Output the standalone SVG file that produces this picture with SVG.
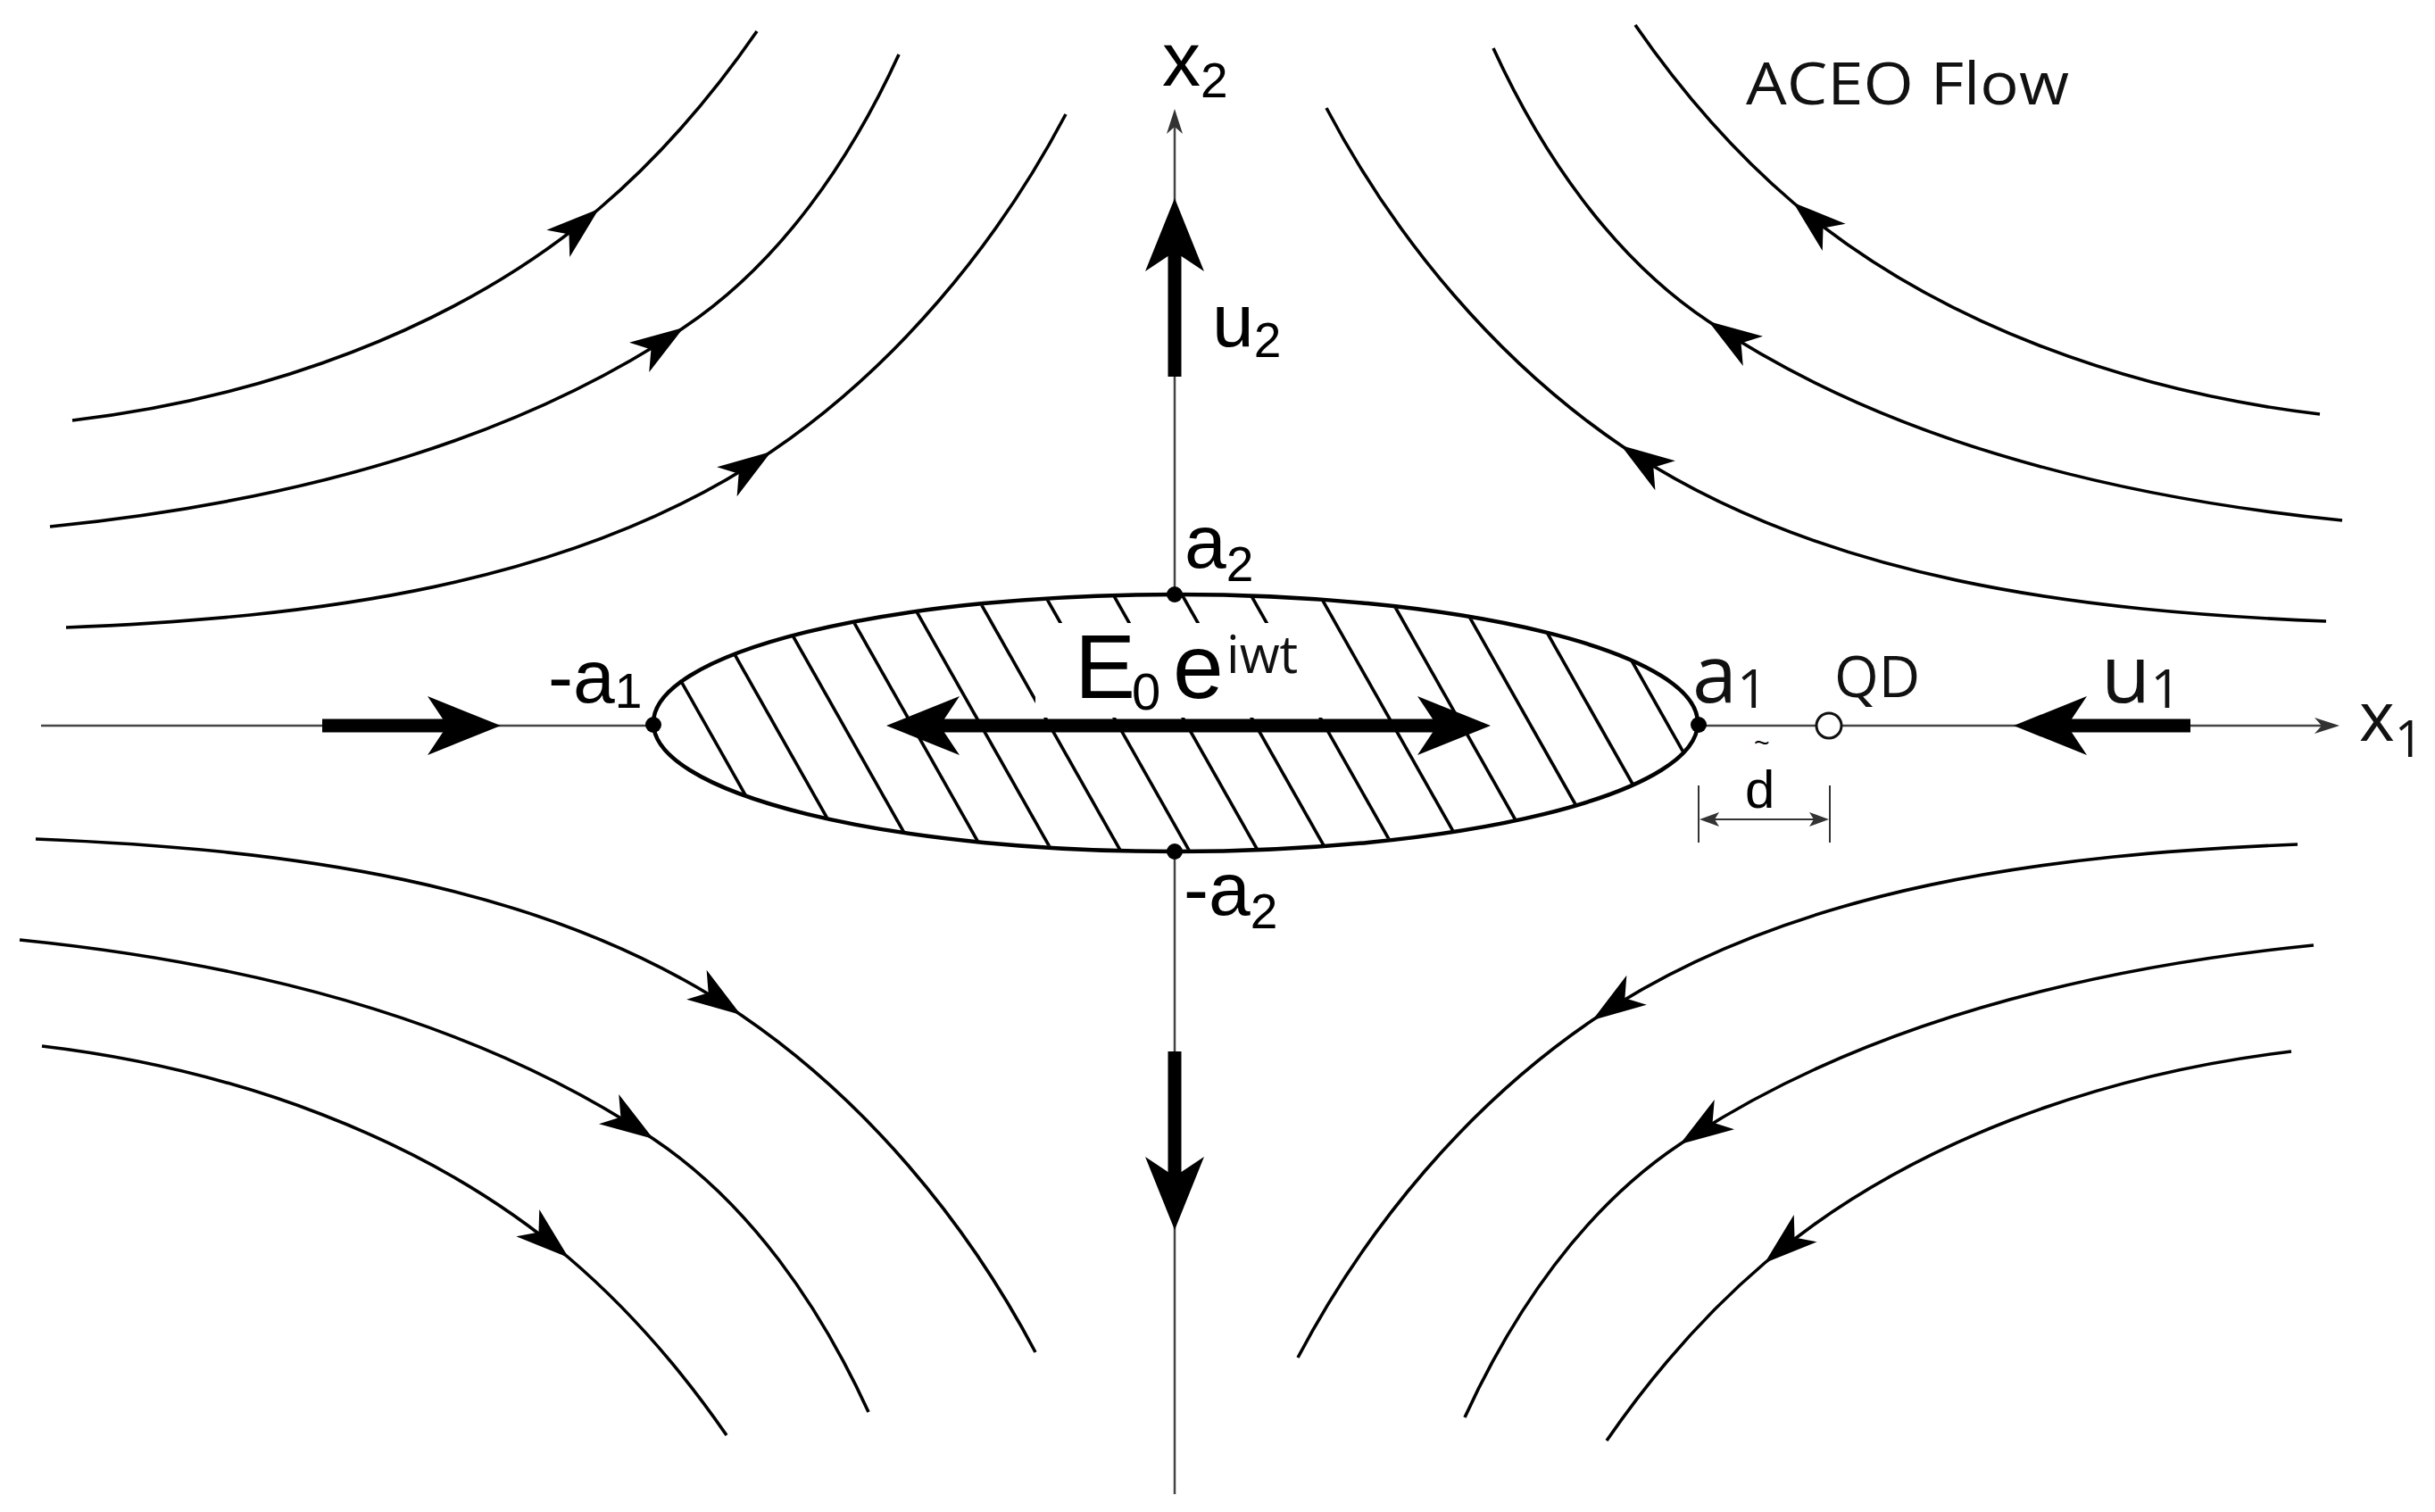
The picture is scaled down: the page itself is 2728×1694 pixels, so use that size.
<svg xmlns="http://www.w3.org/2000/svg" xmlns:xlink="http://www.w3.org/1999/xlink" width="2728" height="1694" viewBox="0 0 2728 1694">
<style>
.axis{stroke:#444;stroke-width:2.5;fill:none}
.stream{stroke:#000;stroke-width:3.6;fill:none;marker-mid:url(#barb)}
.hatch{stroke:#000;stroke-width:3.6}
.thick{stroke:#000;stroke-width:15;fill:none}
.dim{stroke:#333;stroke-width:2;fill:none}
.cond{font-family:"Liberation Sans",Arial,sans-serif;fill:#000}
.os{font-family:"Open Sans","Liberation Sans",sans-serif;fill:#111}
</style>
<defs>
<marker id="barb" markerUnits="userSpaceOnUse" orient="auto" refX="0" refY="0" markerWidth="90" markerHeight="60" viewBox="-80 -30 90 60" overflow="visible">
<path d="M0,0 L-60,-20 L-44,0 L-60,20 Z" fill="#000"/>
</marker>
<path id="thickHead" d="M0,0 L-82,-33 L-60,0 L-82,33 Z" fill="#000"/>
<path id="smallHead" d="M0,0 L-28,-9 L-20,0 L-28,9 Z" fill="#333"/>
<clipPath id="ellClip"><ellipse cx="1317" cy="810" rx="583" ry="142"/></clipPath>
</defs>
<rect width="2728" height="1694" fill="#fff"/>

<g id="connectors">
<g id="stream-TR">
<path class="stream" d="M2599,464 C2388.5,439 2170.5,364 2009,227 C1941,169 1882.5,101 1832,28"/>
<path class="stream" d="M2624,583 C2377,558 2120,498 1914,360 C1806,288 1727,172 1673,54"/>
<path class="stream" d="M2606,696 C2335,685 2040,651 1816,499 C1678,405 1564,269 1486,121"/>
</g>
<g id="stream-TL" transform="matrix(-1 0 0 1 2680 7)">
<path class="stream" d="M2599,464 C2388.5,439 2170.5,364 2009,227 C1941,169 1882.5,101 1832,28"/>
<path class="stream" d="M2624,583 C2377,558 2120,498 1914,360 C1806,288 1727,172 1673,54"/>
<path class="stream" d="M2606,696 C2335,685 2040,651 1816,499 C1678,405 1564,269 1486,121"/>
</g>
<g id="stream-BR" transform="matrix(1 0 0 -1 -32 1642)">
<path class="stream" d="M2599,464 C2388.5,439 2170.5,364 2009,227 C1941,169 1882.5,101 1832,28"/>
<path class="stream" d="M2624,583 C2377,558 2120,498 1914,360 C1806,288 1727,172 1673,54"/>
<path class="stream" d="M2606,696 C2335,685 2040,651 1816,499 C1678,405 1564,269 1486,121"/>
</g>
<g id="stream-BL" transform="matrix(-1 0 0 -1 2646 1636)">
<path class="stream" d="M2599,464 C2388.5,439 2170.5,364 2009,227 C1941,169 1882.5,101 1832,28"/>
<path class="stream" d="M2624,583 C2377,558 2120,498 1914,360 C1806,288 1727,172 1673,54"/>
<path class="stream" d="M2606,696 C2335,685 2040,651 1816,499 C1678,405 1564,269 1486,121"/>
</g>

<g id="axes">
<line class="axis" x1="46" y1="813" x2="732" y2="813"/>
<line class="axis" x1="1903" y1="813" x2="2610" y2="813"/>
<use xlink:href="#smallHead" href="#smallHead" transform="translate(2621,813)"/>
<line class="axis" x1="1316" y1="1674" x2="1316" y2="954"/>
<line class="axis" x1="1316" y1="666" x2="1316" y2="132"/>
<use xlink:href="#smallHead" href="#smallHead" transform="translate(1316,122) rotate(-90)"/>
</g>

<g id="velocity-arrows">
<line class="thick" x1="361" y1="813" x2="510" y2="813"/>
<use xlink:href="#thickHead" href="#thickHead" transform="translate(561,813)"/>
<line class="thick" x1="2454" y1="813" x2="2305" y2="813"/>
<use xlink:href="#thickHead" href="#thickHead" transform="translate(2256,813) rotate(180)"/>
<line class="thick" x1="1316" y1="422" x2="1316" y2="272"/>
<use xlink:href="#thickHead" href="#thickHead" transform="translate(1316,222) rotate(-90)"/>
<line class="thick" x1="1316" y1="1178" x2="1316" y2="1328"/>
<use xlink:href="#thickHead" href="#thickHead" transform="translate(1316,1378) rotate(90)"/>
</g>
</g>

<g id="ellipse-body">
<ellipse cx="1317" cy="810" rx="585" ry="144" fill="#fff" stroke="none"/>
<g clip-path="url(#ellClip)">
<line class="hatch" x1="699" y1="650" x2="881" y2="972"/>
<line class="hatch" x1="776" y1="650" x2="958" y2="972"/>
<line class="hatch" x1="853" y1="650" x2="1035" y2="972"/>
<line class="hatch" x1="930" y1="650" x2="1112" y2="972"/>
<line class="hatch" x1="1007" y1="650" x2="1189" y2="972"/>
<line class="hatch" x1="1084" y1="650" x2="1266" y2="972"/>
<line class="hatch" x1="1161" y1="650" x2="1343" y2="972"/>
<line class="hatch" x1="1238" y1="650" x2="1420" y2="972"/>
<line class="hatch" x1="1315" y1="650" x2="1497" y2="972"/>
<line class="hatch" x1="1392" y1="650" x2="1574" y2="972"/>
<line class="hatch" x1="1469" y1="650" x2="1651" y2="972"/>
<line class="hatch" x1="1546" y1="650" x2="1728" y2="972"/>
<line class="hatch" x1="1623" y1="650" x2="1805" y2="972"/>
<line class="hatch" x1="1700" y1="650" x2="1882" y2="972"/>
<line class="hatch" x1="1777" y1="650" x2="1959" y2="972"/>
</g>
<rect x="1160" y="698" width="325" height="106" fill="#fff"/>
<ellipse cx="1317" cy="810" rx="585" ry="144" fill="none" stroke="#000" stroke-width="4.5"/>
</g>

<g id="field-arrow">
<line class="thick" x1="1045" y1="813" x2="1615" y2="813" stroke-width="16"/>
<use xlink:href="#thickHead" href="#thickHead" transform="translate(1670,813)"/>
<use xlink:href="#thickHead" href="#thickHead" transform="translate(993,813) rotate(180)"/>
</g>

<g id="points">
<circle cx="732" cy="812" r="9" fill="#000"/>
<circle cx="1903" cy="812" r="9" fill="#000"/>
<circle cx="1316" cy="666" r="9" fill="#000"/>
<circle cx="1316" cy="954" r="9" fill="#000"/>
</g>

<g id="qd">
<circle cx="2049" cy="813" r="14" fill="#fff" stroke="#111" stroke-width="3"/>
<text class="os" x="2055" y="781" font-size="64">QD</text>
</g>

<g id="dimension">
<line class="dim" x1="1903" y1="880" x2="1903" y2="944"/>
<line class="dim" x1="2050" y1="880" x2="2050" y2="944"/>
<line class="dim" x1="1912" y1="918" x2="2041" y2="918"/>
<path d="M1904,918 L1926,910 L1921,918 L1926,926 Z" fill="#333"/>
<path d="M2049,918 L2027,910 L2032,918 L2027,926 Z" fill="#333"/>
<text class="cond" x="1955" y="905" font-size="60">d</text>
<text class="cond" x="1965" y="842" font-size="30">~</text>
</g>

<g id="labels">
<text class="cond" x="1302" y="96" font-size="86">x<tspan font-size="55" dy="13">2</tspan></text>
<text class="cond" x="1358" y="388" font-size="84">u<tspan font-size="55" dy="12">2</tspan></text>
<text class="cond" x="1327" y="636" font-size="84">a<tspan font-size="55" dy="15">2</tspan></text>
<text class="cond" x="614" y="787" font-size="84">-a<tspan font-size="55" dy="6">1</tspan></text>
<text class="cond" x="1326" y="1025" font-size="84">-a<tspan font-size="55" dy="15">2</tspan></text>
<text class="cond" font-size="102"><tspan x="1204" y="782">E</tspan><tspan x="1268" y="795" font-size="58">0</tspan><tspan x="1314" y="782">e</tspan></text>
<text class="os" x="1374" y="754" font-size="58">iwt</text>
<text class="os" x="1896" y="787" font-size="90">a<tspan font-size="60" dy="6">1</tspan></text>
<text class="os" x="2354" y="787" font-size="90">u<tspan font-size="60" dy="6">1</tspan></text>
<text class="os" x="2643" y="830" font-size="76">x<tspan font-size="56" dy="18">1</tspan></text>
<text class="os" x="1956" y="117" font-size="66" textLength="362" lengthAdjust="spacingAndGlyphs">ACEO Flow</text>
</g>
</svg>
